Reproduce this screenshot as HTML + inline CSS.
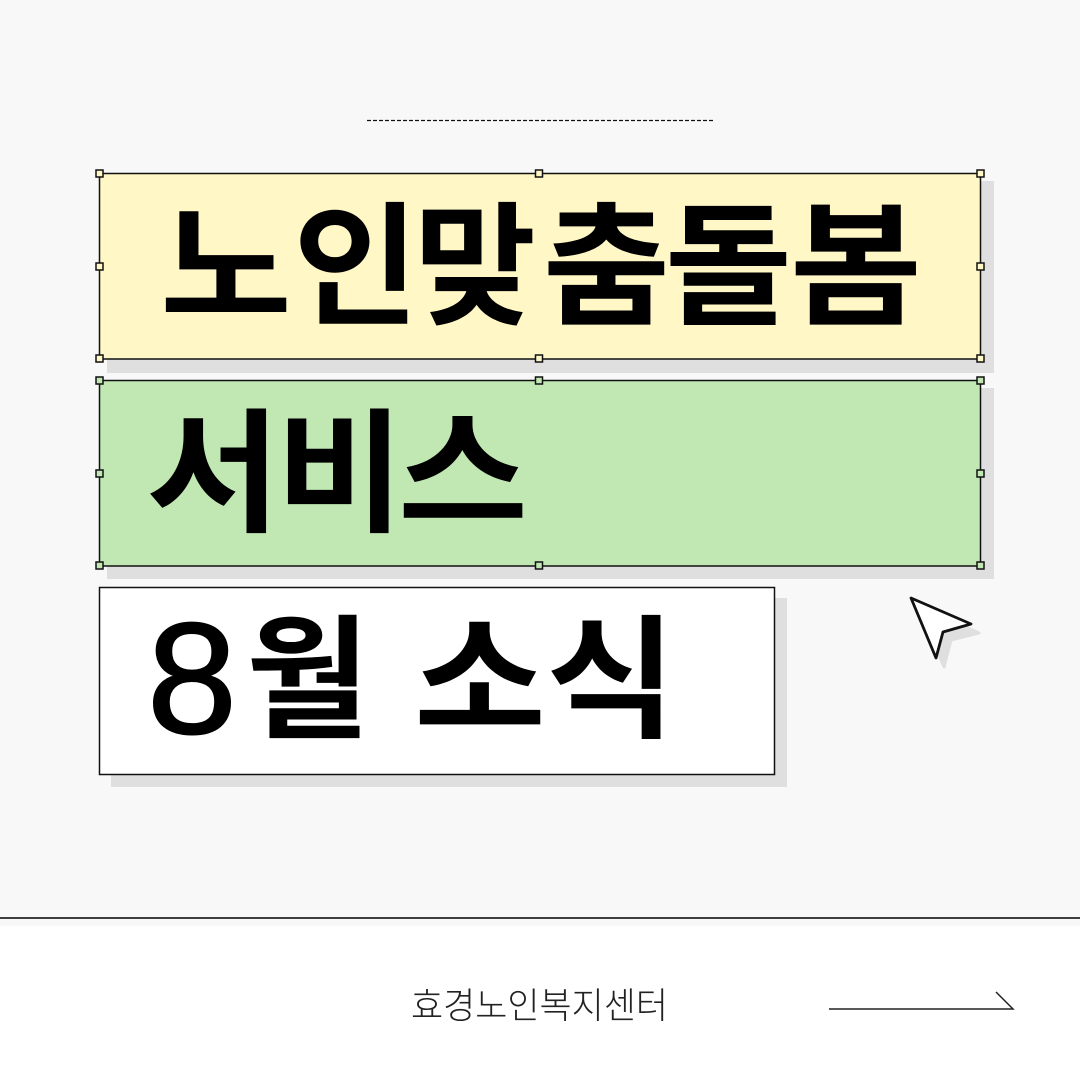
<!DOCTYPE html>
<html lang="ko"><head><meta charset="utf-8"><style>
html,body{margin:0;padding:0;background:#f8f8f8}
svg{display:block}
text{font-family:"Noto Sans CJK KR",sans-serif}
</style></head><body>
<svg xmlns="http://www.w3.org/2000/svg" width="1080" height="1080" viewBox="0 0 1080 1080">
<rect width="1080" height="1080" fill="#f8f8f8"/>
<rect y="926" width="1080" height="154" fill="#fff"/>
<line x1="0" x2="1080" y1="918" y2="918" stroke="#000" stroke-width="1.5"/>
<line x1="367" x2="713" y1="120.5" y2="120.5" stroke="#111" stroke-width="1.3" stroke-dasharray="4 2"/>
<rect x="107" y="181" width="887" height="192" fill="#dfdfdf"/>
<rect x="107" y="388" width="887" height="191" fill="#dfdfdf"/>
<rect x="111" y="598" width="676" height="189" fill="#dfdfdf"/>
<rect x="99.5" y="173.5" width="881" height="185.500" fill="#fff7c5" stroke="#111" stroke-width="1.5"/>
<rect x="99.5" y="380.500" width="881" height="185.500" fill="#c1e8b3" stroke="#111" stroke-width="1.5"/>
<rect x="99.500" y="587.500" width="675" height="187" fill="#fff" stroke="#111" stroke-width="1.5"/>
<g fill="#fff7c5" stroke="#111" stroke-width="1.5">
<rect x="96" y="170" width="7" height="7"/><rect x="535.500" y="170" width="7" height="7"/><rect x="977" y="170" width="7" height="7"/>
<rect x="96" y="263" width="7" height="7"/><rect x="977" y="263" width="7" height="7"/>
<rect x="96" y="355" width="7" height="7"/><rect x="535.500" y="355" width="7" height="7"/><rect x="977" y="355" width="7" height="7"/>
</g>
<g fill="#c1e8b3" stroke="#111" stroke-width="1.5">
<rect x="96" y="377" width="7" height="7"/><rect x="535.500" y="377" width="7" height="7"/><rect x="977" y="377" width="7" height="7"/>
<rect x="96" y="470" width="7" height="7"/><rect x="977" y="470" width="7" height="7"/>
<rect x="96" y="562" width="7" height="7"/><rect x="535.500" y="562" width="7" height="7"/><rect x="977" y="562" width="7" height="7"/>
</g>
<g font-size="134" font-weight="700" fill="#000" lengthAdjust="spacingAndGlyphs">
<text x="160" y="314" textLength="132" lengthAdjust="spacingAndGlyphs">노</text>
<text x="293" y="314" textLength="126" lengthAdjust="spacingAndGlyphs">인</text>
<text x="414" y="314" textLength="122" lengthAdjust="spacingAndGlyphs">맞</text>
<text x="543" y="314" textLength="127" lengthAdjust="spacingAndGlyphs">춤</text>
<text x="665" y="314" textLength="127" lengthAdjust="spacingAndGlyphs">돌</text>
<text x="790" y="314" textLength="132" lengthAdjust="spacingAndGlyphs">봄</text>
<text x="146" y="521" textLength="135" lengthAdjust="spacingAndGlyphs">서</text>
<text x="276" y="521" textLength="128" lengthAdjust="spacingAndGlyphs">비</text>
<text x="398" y="521" textLength="130" lengthAdjust="spacingAndGlyphs">스</text>
<text x="246" y="727" textLength="124" lengthAdjust="spacingAndGlyphs">월</text>
<text x="414" y="727" textLength="132" lengthAdjust="spacingAndGlyphs">소</text>
<text x="546" y="727" textLength="130" lengthAdjust="spacingAndGlyphs">식</text>
</g>
<text x="147" y="733" font-size="158" textLength="90" lengthAdjust="spacingAndGlyphs" fill="#000" stroke="#000" stroke-width="2" style="font-family:'Liberation Sans',sans-serif">8</text>
<path d="M918 606 L979 633 L951 640 L944 667 Z" fill="#dfdfdf" stroke="#dfdfdf" stroke-width="3" stroke-linejoin="round"/>
<path d="M911 598 L971 624 L943 632 L936 658 Z" fill="#fff" stroke="#111" stroke-width="2.800" stroke-linejoin="round"/>
<text x="411" y="1018" font-size="36" font-weight="300" textLength="257" lengthAdjust="spacingAndGlyphs" fill="#222">효경노인복지센터</text>
<path d="M829 1009 H1013 L996 992" fill="none" stroke="#222" stroke-width="1.500"/>
</svg>
</body></html>
